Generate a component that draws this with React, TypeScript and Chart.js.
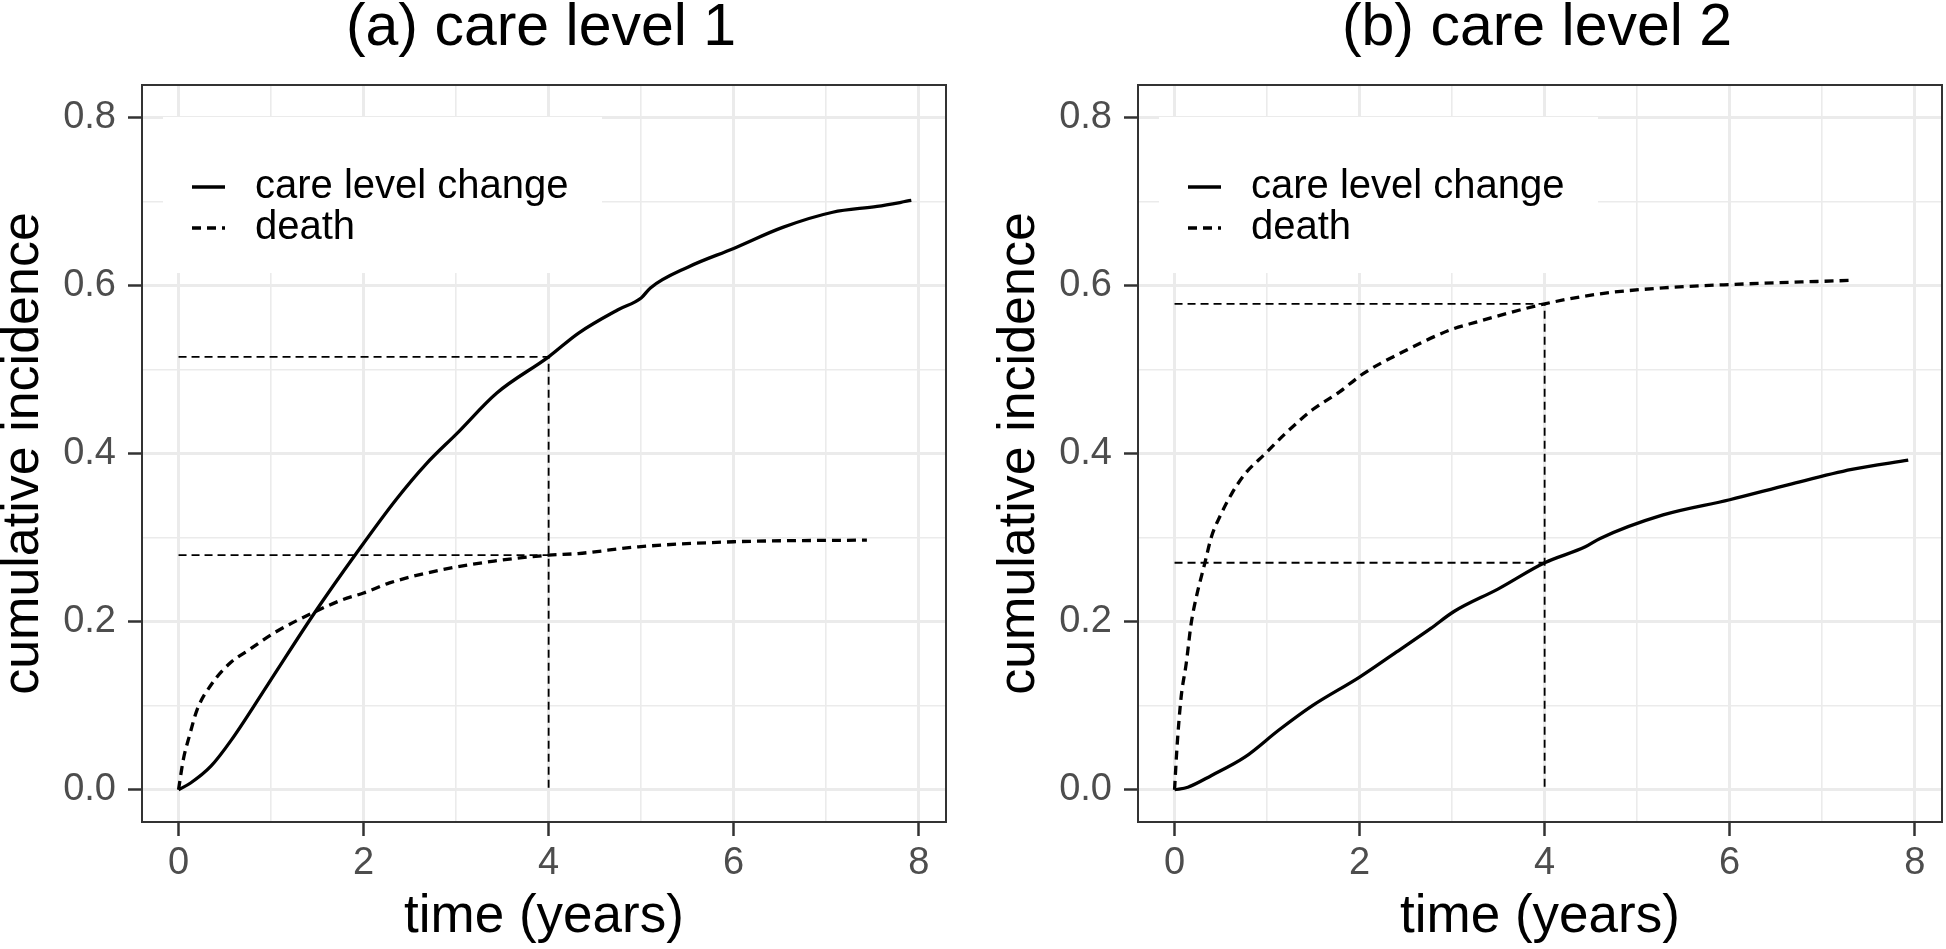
import React, { useEffect, useRef } from "react";
import { Chart, registerables } from "chart.js";

Chart.register(...registerables);

// ---------- data ----------
const PANEL_TITLES = ["(a) care level 1", "(b) care level 2"];
const SERIES_LABELS = ["care level change", "death"];
const AXIS_X_TITLE = "time (years)";
const AXIS_Y_TITLE = "cumulative incidence";
const X_TICKS = [0, 1, 2, 3, 4, 5, 6, 7, 8];
const Y_TICKS = [0, 0.1, 0.2, 0.3, 0.4, 0.5, 0.6, 0.7, 0.8];
const REF_TIME = 4;

// (a) care level 1
const A_CARE_T = [0, 0.13, 0.35, 0.57, 0.97, 1.48, 1.92, 2.35, 2.68, 3.01, 3.44, 4.0, 4.32, 4.75, 5.0, 5.1, 5.51, 6.0, 6.53, 7.07, 7.55, 7.92];
const A_CARE_Y = [0, 0.008, 0.028, 0.059, 0.126, 0.212, 0.281, 0.345, 0.388, 0.424, 0.472, 0.515, 0.543, 0.571, 0.585, 0.597, 0.622, 0.644, 0.669, 0.687, 0.694, 0.701];
const A_DEATH_T = [0, 0.05, 0.12, 0.2, 0.36, 0.56, 0.77, 1.04, 1.48, 1.77, 2.0, 2.28, 2.86, 3.41, 4.0, 4.32, 4.97, 6.0, 7.44];
const A_DEATH_Y = [0, 0.035, 0.065, 0.095, 0.126, 0.151, 0.167, 0.187, 0.212, 0.226, 0.234, 0.246, 0.262, 0.272, 0.279, 0.281, 0.289, 0.295, 0.297];

// (b) care level 2
const B_CARE_T = [0, 0.144, 0.4, 0.763, 1.128, 1.49, 2.0, 2.4, 2.77, 3.02, 3.5, 4.0, 4.44, 4.6, 5.28, 6.0, 6.64, 7.32, 7.93];
const B_CARE_Y = [0, 0.003, 0.017, 0.039, 0.071, 0.1, 0.134, 0.164, 0.192, 0.212, 0.239, 0.27, 0.289, 0.299, 0.327, 0.345, 0.363, 0.381, 0.392];
const B_DEATH_T = [0, 0.027, 0.071, 0.126, 0.18, 0.235, 0.326, 0.399, 0.49, 0.617, 0.763, 0.982, 1.2, 1.49, 1.78, 2.04, 2.47, 2.98, 3.25, 4.0, 4.6, 5.28, 6.0, 7.32];
const B_DEATH_Y = [0, 0.051, 0.11, 0.15, 0.198, 0.229, 0.269, 0.301, 0.325, 0.352, 0.376, 0.4, 0.424, 0.452, 0.473, 0.495, 0.521, 0.547, 0.556, 0.578, 0.59, 0.597, 0.601, 0.606];

// ---------- styling ----------
const FONT = '"Liberation Sans", Arial, Helvetica, sans-serif';
const CANVAS_W = 950;
const CANVAS_H = 949;

const toPoints = (t: number[], y: number[]) => t.map((v, i) => ({ x: v, y: y[i] }));
const valueAt = (t: number[], y: number[], at: number) => {
  const i = t.indexOf(at);
  return i >= 0 ? y[i] : 0;
};

const isMajorX = (v: number) => Math.round(v) % 2 === 0;
const isMajorY = (v: number) => Math.round(v * 10) % 2 === 0;

function decorPlugin(title: string) {
  return {
    id: "panelDecor",
    afterDraw(chart: any) {
      const { ctx, chartArea: ca } = chart;
      ctx.save();
      // legend box
      ctx.fillStyle = "#ffffff";
      ctx.fillRect(ca.left + 21, ca.top + 32, 439, 156);
      const items = chart.data.datasets.filter((d: any) => SERIES_LABELS.includes(d.label));
      items.forEach((d: any, i: number) => {
        const y = ca.top + 102 + i * 41;
        ctx.beginPath();
        ctx.setLineDash(d.borderDash || []);
        ctx.lineWidth = d.borderWidth;
        ctx.strokeStyle = d.borderColor;
        ctx.moveTo(ca.left + 50, y);
        ctx.lineTo(ca.left + 83, y);
        ctx.stroke();
        ctx.setLineDash([]);
        ctx.fillStyle = "#000000";
        ctx.font = `40px ${FONT}`;
        ctx.textBaseline = "middle";
        ctx.textAlign = "left";
        ctx.fillText(d.label, ca.left + 113, y);
      });
      // panel border
      ctx.strokeStyle = "#333333";
      ctx.lineWidth = 2;
      ctx.strokeRect(ca.left, ca.top, ca.right - ca.left, ca.bottom - ca.top);
      // title
      ctx.fillStyle = "#000000";
      ctx.font = `59px ${FONT}`;
      ctx.textAlign = "center";
      ctx.textBaseline = "alphabetic";
      ctx.fillText(title, (ca.left + ca.right) / 2 - 3, 45);
      ctx.restore();
    },
  };
}

function makeConfig(title: string, careT: number[], careY: number[], deathT: number[], deathY: number[]): any {
  const refCare = valueAt(careT, careY, REF_TIME);
  const refDeath = valueAt(deathT, deathY, REF_TIME);
  const top = Math.max(refCare, refDeath);
  const low = Math.min(refCare, refDeath);
  const refStyle = {
    borderColor: "#000000",
    borderWidth: 1.8,
    borderDash: [8, 5],
    pointRadius: 0,
    tension: 0,
    fill: false,
  };
  return {
    type: "line",
    data: {
      datasets: [
        {
          label: SERIES_LABELS[0],
          data: toPoints(careT, careY),
          borderColor: "#000000",
          borderWidth: 3.3,
          pointRadius: 0,
          cubicInterpolationMode: "monotone",
          fill: false,
        },
        {
          label: SERIES_LABELS[1],
          data: toPoints(deathT, deathY),
          borderColor: "#000000",
          borderWidth: 3.3,
          borderDash: [9, 6],
          pointRadius: 0,
          cubicInterpolationMode: "monotone",
          fill: false,
        },
        {
          label: "ref-high",
          data: [
            { x: 0, y: top },
            { x: REF_TIME, y: top },
            { x: REF_TIME, y: 0 },
          ],
          ...refStyle,
        },
        {
          label: "ref-low",
          data: [
            { x: 0, y: low },
            { x: REF_TIME, y: low },
          ],
          ...refStyle,
        },
      ],
    },
    options: {
      animation: false,
      responsive: false,
      devicePixelRatio: 1,
      layout: { padding: { top: 85, right: 4, left: 0, bottom: 0 } },
      plugins: {
        legend: { display: false },
        title: { display: false },
        tooltip: { enabled: false },
      },
      scales: {
        x: {
          type: "linear",
          min: -0.395,
          max: 8.295,
          afterBuildTicks: (s: any) => {
            s.ticks = X_TICKS.map((v) => ({ value: v }));
          },
          afterFit: (s: any) => {
            s.height = 127;
          },
          ticks: {
            autoSkip: false,
            maxRotation: 0,
            padding: 5,
            color: "#4D4D4D",
            font: { size: 38, family: FONT },
            callback: (v: number) => (isMajorX(v) ? String(v) : ""),
          },
          grid: {
            color: "#EBEBEB",
            lineWidth: (c: any) => (c.tick && isMajorX(c.tick.value) ? 3 : 1.6),
            tickLength: 14,
            tickColor: (c: any) => (c.tick && isMajorX(c.tick.value) ? "#333333" : "rgba(0,0,0,0)"),
            tickWidth: 2.5,
          },
          border: { display: false },
          title: {
            display: true,
            text: AXIS_X_TITLE,
            color: "#000000",
            font: { size: 53, family: FONT },
            padding: 0,
          },
        },
        y: {
          type: "linear",
          min: -0.0384,
          max: 0.8384,
          afterBuildTicks: (s: any) => {
            s.ticks = Y_TICKS.map((v) => ({ value: v }));
          },
          afterFit: (s: any) => {
            s.width = 142;
          },
          ticks: {
            autoSkip: false,
            padding: 12,
            color: "#4D4D4D",
            font: { size: 38, family: FONT },
            callback: (v: number) => (isMajorY(v) ? v.toFixed(1) : ""),
          },
          grid: {
            color: "#EBEBEB",
            lineWidth: (c: any) => (c.tick && isMajorY(c.tick.value) ? 3 : 1.6),
            tickLength: 14,
            tickColor: (c: any) => (c.tick && isMajorY(c.tick.value) ? "#333333" : "rgba(0,0,0,0)"),
            tickWidth: 2.5,
          },
          border: { display: false },
          title: {
            display: true,
            text: AXIS_Y_TITLE,
            color: "#000000",
            font: { size: 52, family: FONT, lineHeight: 0.9 },
            padding: 0,
          },
        },
      },
    },
    plugins: [decorPlugin(title)],
  };
}

export default function App() {
  const refA = useRef<HTMLCanvasElement | null>(null);
  const refB = useRef<HTMLCanvasElement | null>(null);

  useEffect(() => {
    document.body.style.margin = "0";
    document.body.style.overflow = "hidden";
    const charts: Chart[] = [];
    if (refA.current) {
      charts.push(new Chart(refA.current, makeConfig(PANEL_TITLES[0], A_CARE_T, A_CARE_Y, A_DEATH_T, A_DEATH_Y)));
    }
    if (refB.current) {
      charts.push(new Chart(refB.current, makeConfig(PANEL_TITLES[1], B_CARE_T, B_CARE_Y, B_DEATH_T, B_DEATH_Y)));
    }
    return () => charts.forEach((c) => c.destroy());
  }, []);

  return (
    <div style={{ position: "absolute", left: 0, top: 0, width: 1946, height: 949, background: "#ffffff", overflow: "hidden" }}>
      <canvas ref={refA} width={CANVAS_W} height={CANVAS_H} style={{ position: "absolute", left: 0, top: 0, width: CANVAS_W, height: CANVAS_H }} />
      <canvas ref={refB} width={CANVAS_W} height={CANVAS_H} style={{ position: "absolute", left: 996, top: 0, width: CANVAS_W, height: CANVAS_H }} />
    </div>
  );
}
